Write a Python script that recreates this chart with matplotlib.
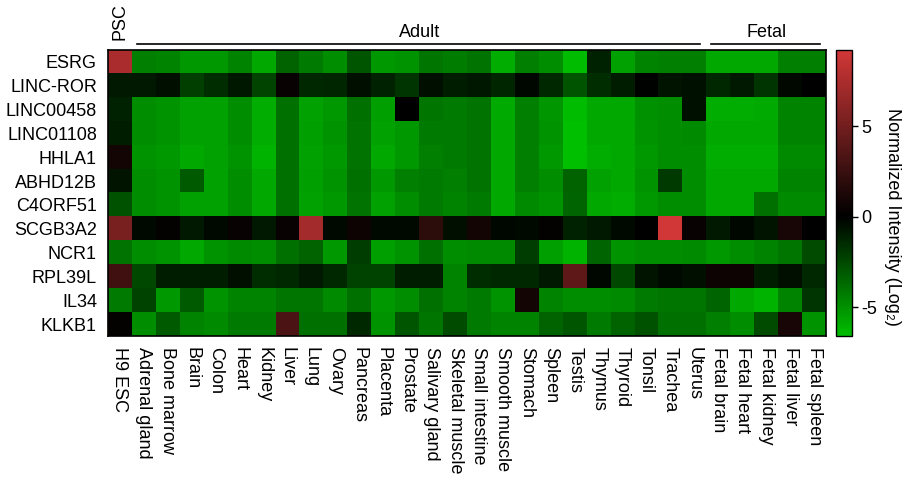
import numpy as np
import matplotlib
matplotlib.use("Agg")
import matplotlib.pyplot as plt
from matplotlib.colors import LinearSegmentedColormap
from matplotlib.transforms import blended_transform_factory

plt.rcParams['font.family'] = ['Liberation Sans', 'DejaVu Sans']
plt.rcParams['axes.unicode_minus'] = False

genes = ["ESRG", "LINC-ROR", "LINC00458", "LINC01108", "HHLA1", "ABHD12B",
         "C4ORF51", "SCGB3A2", "NCR1", "RPL39L", "IL34", "KLKB1"]

tissues = ["H9 ESC", "Adrenal gland", "Bone marrow", "Brain", "Colon", "Heart",
           "Kidney", "Liver", "Lung", "Ovary", "Pancreas", "Placenta", "Prostate",
           "Salivary gland", "Skeletal muscle", "Small intestine", "Smooth muscle",
           "Stomach", "Spleen", "Testis", "Thymus", "Thyroid", "Tonsil", "Trachea",
           "Uterus", "Fetal brain", "Fetal heart", "Fetal kidney", "Fetal liver",
           "Fetal spleen"]

groups = [("PSC", 0, 0), ("Adult", 1, 24), ("Fetal", 25, 29)]

esrg     = [7.45, -4.4, -4.6, -5.3, -5.3, -4.6, -5.8, -3.4, -4.2, -4.9, -3.0, -5.3, -5.1, -4.1, -4.3,
            -4.0, -6.0, -4.4, -4.9, -6.5, -1.2, -5.6, -4.6, -4.4, -4.4, -5.8, -5.8, -5.8, -4.4, -4.4]
linc_ror = [-0.9, -0.9, -0.5, -2.2, -1.6, -0.8, -2.4, 0.4, -1.4, -1.3, -0.5, -1.2, -1.8, -0.5, -1.0,
            -0.8, -1.3, -0.2, -1.4, -2.9, -1.6, -1.0, -0.1, -0.7, -0.6, -1.4, -0.9, -1.8, -0.3, 0.0]
linc458  = [-1.2, -4.9, -5.1, -5.6, -5.6, -4.9, -6.0, -3.9, -5.6, -5.3, -3.9, -5.5, 0.0, -4.1, -4.2,
            -4.0, -5.9, -4.4, -5.2, -6.5, -5.8, -5.8, -5.0, -4.9, -0.6, -6.0, -6.0, -5.9, -4.6, -4.6]
linc1108 = [-1.0, -4.9, -5.1, -5.6, -5.6, -4.9, -6.0, -3.9, -5.5, -5.1, -4.0, -5.6, -5.3, -4.2, -4.2,
            -4.0, -5.8, -4.4, -5.1, -6.7, -5.8, -5.8, -5.1, -4.9, -4.8, -5.8, -5.8, -5.8, -4.6, -4.6]
hhla1    = [0.9, -5.1, -5.3, -5.8, -5.6, -5.1, -6.2, -3.9, -5.6, -5.3, -4.0, -5.8, -5.3, -4.4, -4.2,
            -4.0, -5.8, -4.4, -5.3, -6.8, -6.0, -5.8, -5.3, -4.9, -4.9, -6.0, -6.0, -6.0, -4.8, -4.8]
abhd12b  = [-0.7, -4.9, -5.1, -3.2, -5.6, -4.9, -5.8, -3.9, -5.5, -5.1, -3.9, -5.3, -4.4, -4.2, -4.4,
            -4.0, -5.8, -4.4, -4.9, -3.4, -5.6, -5.8, -5.1, -2.0, -4.9, -5.8, -5.8, -5.8, -4.6, -4.6]
c4orf51  = [-2.8, -4.9, -5.1, -5.6, -5.6, -4.9, -5.8, -3.9, -5.6, -5.3, -4.0, -5.6, -4.9, -4.2, -4.6,
            -4.2, -5.8, -4.8, -5.1, -3.5, -5.8, -6.0, -5.3, -4.9, -4.9, -5.8, -5.8, -3.9, -4.8, -4.8]
scgb3a2  = [5.3, -0.35, 0.2, -0.9, -0.35, 0.4, -0.9, 0.4, 7.2, -0.35, 0.6, -0.35, -0.35, 2.0, -0.5,
            0.9, -0.2, -0.35, 0.2, -1.2, -0.9, -0.35, 0.0, 9.2, 0.4, -0.9, -0.2, -0.7, 1.1, 0.0]
ncr1     = [-4.0, -4.9, -5.1, -5.8, -5.1, -4.8, -4.9, -3.9, -3.4, -5.3, -2.1, -5.5, -5.1, -3.9, -4.9,
            -4.8, -4.8, -2.1, -5.5, -6.2, -3.5, -5.1, -4.9, -4.9, -4.8, -5.3, -4.9, -4.6, -4.1, -2.6]
rpl39l   = [2.8, -2.5, -1.0, -1.0, -1.0, -0.5, -1.6, -1.4, -0.9, -1.4, -2.3, -2.3, -1.0, -1.0, -4.6,
            -1.6, -1.4, -1.4, -0.9, 4.2, -0.2, -2.5, -0.7, -0.35, -0.5, 0.6, 0.6, -1.0, -0.5, -1.4]
il34     = [-4.2, -2.3, -5.3, -3.2, -5.1, -4.6, -4.6, -4.1, -4.1, -4.8, -3.9, -5.3, -4.9, -3.9, -4.6,
            -4.2, -5.1, 0.9, -4.6, -4.9, -4.9, -4.8, -4.2, -4.1, -4.1, -3.5, -5.8, -6.2, -4.6, -1.8]
klkb1    = [0.2, -4.9, -3.2, -4.6, -4.8, -4.2, -4.2, 3.3, -3.9, -3.9, -1.4, -5.1, -3.0, -4.1, -2.6,
            -4.2, -4.6, -4.6, -3.4, -3.0, -4.2, -3.4, -2.8, -3.9, -3.9, -4.4, -4.9, -2.6, 1.1, -5.1]

data = np.array([esrg, linc_ror, linc458, linc1108, hhla1, abhd12b, c4orf51,
                 scgb3a2, ncr1, rpl39l, il34, klkb1])

vmin, vmax = -6.6, 9.2
zero = (0 - vmin) / (vmax - vmin)
cmap = LinearSegmentedColormap.from_list(
    "gbr", [(0.0, (0.0, 190/255, 0.0)), (zero, (0.0, 0.0, 0.0)),
            (1.0, (210/255, 55/255, 55/255))])

W, H = 903, 483
fig = plt.figure(figsize=(W/100, H/100), dpi=100)

def px_axes(x0, y0, x1, y1):
    return fig.add_axes([x0/W, 1 - y1/H, (x1-x0)/W, (y1-y0)/H])

ax = px_axes(108, 50, 826, 336)
im = ax.imshow(data, cmap=cmap, vmin=vmin, vmax=vmax, aspect='auto',
               interpolation='nearest')
ax.set_xticks(np.arange(len(tissues)))
ax.set_xticklabels(tissues, rotation=-90, fontsize=13, ha='center', va='top')
ax.set_yticks(np.arange(len(genes)))
ax.set_yticklabels(genes, fontsize=13)
ax.tick_params(axis='x', length=0, pad=8)
ax.tick_params(axis='y', length=0, pad=8)
for s in ax.spines.values():
    s.set_linewidth(1.2)
    s.set_color('black')

trans = blended_transform_factory(ax.transData, ax.transAxes)
for name, a, b in groups:
    if a == b:
        ax.text(a, 1.035, name, rotation=90, ha='center', va='bottom',
                fontsize=13, transform=trans)
    else:
        ax.plot([a - 0.29, b + 0.24], [1.022, 1.022], color='black', lw=1.2,
                transform=trans, clip_on=False)
        ax.text((a + b) / 2, 1.045, name, ha='center', va='baseline',
                fontsize=13, transform=trans)

cax = px_axes(836, 50, 852, 336)
cb = fig.colorbar(im, cax=cax, ticks=[5, 0, -5])
cb.ax.set_yticklabels(['5', '0', '-5'], fontsize=13)
cb.ax.tick_params(length=4, width=1, pad=3)
cb.outline.set_linewidth(1)
fig.text(893/W, 1 - 217/H, "Normalized Intensity (Log\u2082)", rotation=-90,
         ha='center', va='center', fontsize=13)

fig.savefig("out.png", dpi=100)
